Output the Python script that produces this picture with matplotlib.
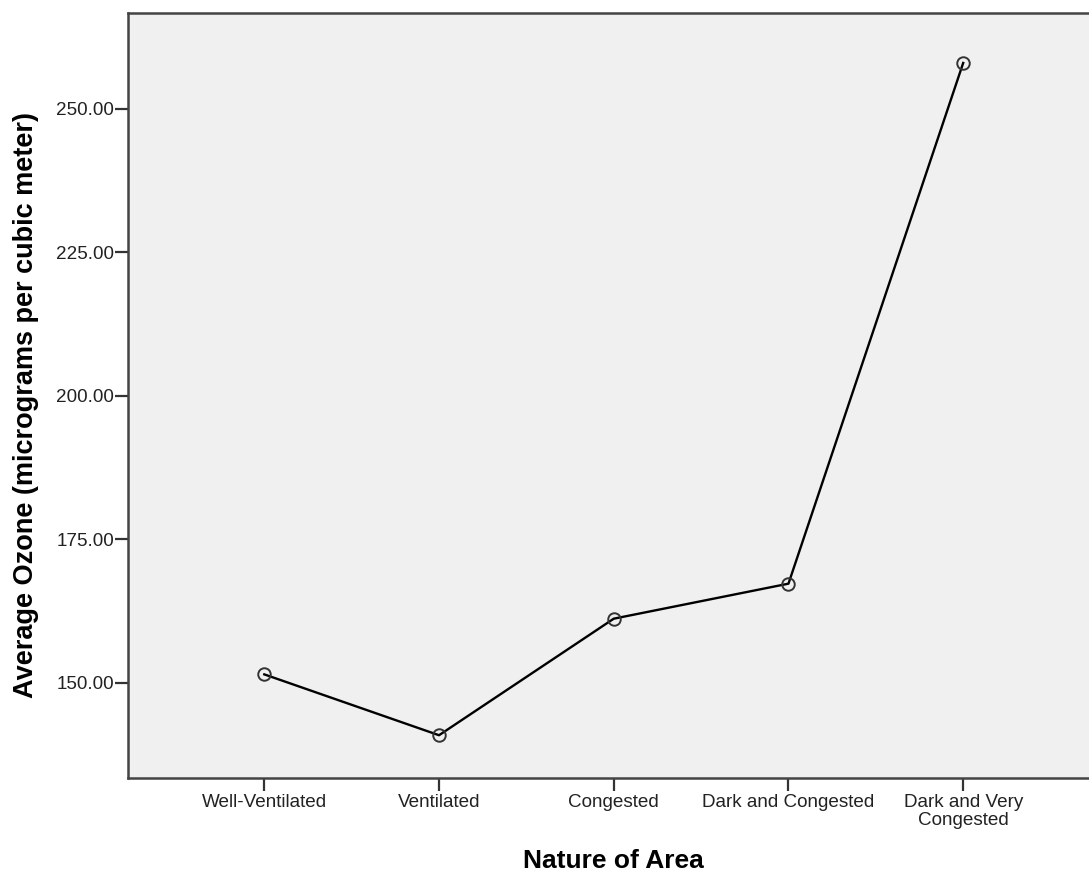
import matplotlib
matplotlib.use("Agg")
import matplotlib.pyplot as plt

categories = ["Well-Ventilated", "Ventilated", "Congested", "Dark and Congested", "Dark and Very\nCongested"]
ozone = [151.5, 140.9, 161.2, 167.3, 258.0]
yticks = [150, 175, 200, 225, 250]

plt.rcParams['font.family'] = ['Liberation Sans', 'DejaVu Sans']

W, H = 1089, 875
fig = plt.figure(figsize=(W/100, H/100), dpi=100)
ax = fig.add_axes([128/W, (H-778)/H, 1 - 128/W, (778-13)/H])
ax.set_facecolor("#F0F0F0")

x = list(range(len(categories)))
ax.plot(x, ozone, color="black", linewidth=1.7, zorder=2)
ax.plot(x, ozone, linestyle="none", marker="o", markersize=9, markerfacecolor="none",
        markeredgecolor="#333333", markeredgewidth=1.4, zorder=3)

ax.set_xlim(-0.78, 4.72)
ax.set_ylim(133.45, 266.7)
ax.set_xticks(x)
ax.set_xticklabels(categories, fontsize=13.6, linespacing=1.1)
ax.set_yticks(yticks)
ax.set_yticklabels([f"{v:.2f}" for v in yticks], fontsize=13.6)
ax.tick_params(direction="out", width=1.6, color="#333333", labelcolor="#222222")
ax.tick_params(axis="x", length=9.5, pad=2)
ax.tick_params(axis="y", length=9.5, pad=0.5)

for s in ["left", "bottom", "top"]:
    ax.spines[s].set_color("#444444")
    ax.spines[s].set_linewidth(1.8)
ax.spines["right"].set_visible(False)

fig.text(613/W, 1 - 868/H, "Nature of Area", fontsize=19, fontweight="bold",
         ha="center", va="baseline", color="black")
fig.text(26/W, 1 - 405/H, "Average Ozone (micrograms per cubic meter)", fontsize=19.5,
         fontweight="bold", ha="center", va="center", rotation=90, color="black")

fig.savefig("out.png", dpi=100)
